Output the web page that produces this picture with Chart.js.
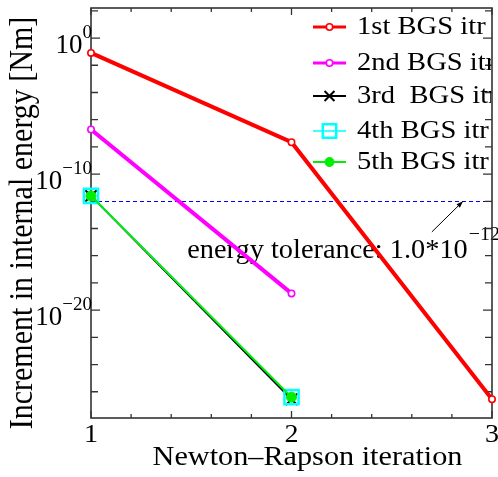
<!DOCTYPE html>
<html>
<head>
<meta charset="utf-8">
<script src="https://cdn.jsdelivr.net/npm/chart.js@4.4.0/dist/chart.umd.min.js"></script>
<style>
html,body{margin:0;padding:0;background:#fff;}
#wrap{width:498px;height:477px;}
</style>
</head>
<body>
<div id="wrap"><canvas id="c" width="498" height="477"></canvas></div>
<script>
// ---- data ----
const iterations = [1, 2, 3];
const bgs1 = [8.1e-2, 2.2e-8, 2.8e-27];
const bgs2 = [1.9e-7, 1.7e-19];
const bgs3 = [2.5e-12, 2.8e-27];
const bgs4 = [2.5e-12, 4.0e-27];
const bgs5 = [2.5e-12, 4.0e-27];
const seriesNames = ['1st BGS itr', '2nd BGS itr', '3rd  BGS itr', '4th BGS itr', '5th BGS itr'];
const yMajorTicks = [1e0, 1e-10, 1e-20];
const yTickBase = ['10', '10', '10'];
const yTickExp = ['0', '\u221210', '\u221220'];
const yMinorExps = [2, -2, -4, -6, -8, -12, -14, -16, -18, -22, -24, -26];
const xTickValues = [1, 2, 3];
const xTickLabels = ['1', '2', '3'];
const xMinorTicks = [1.2, 1.4, 1.6, 1.8, 2.2, 2.4, 2.6, 2.8];
const tolerance = 1e-12;
const toleranceText = 'energy tolerance: 1.0*10';
const toleranceExp = '\u221212';
const xTitle = 'Newton\u2013Rapson iteration';
const yTitle = 'Increment in internal energy [Nm]';
// annotation anchor positions (data space)
const arrowTip = {x: 2.855, y: 1e-12};
const arrowTail = {x: 2.70, y: Math.pow(10, -14.25)};
const noteAnchor = {x: 1.48, y: Math.pow(10, -16.17)};

const toPts = (vals) => vals.map((v, i) => ({x: iterations[i], y: v}));

const styles = [
  {color: '#ff0000', width: 4, pointStyle: 'circle', radius: 3.2, pbw: 1.6, bg: '#ffffff', order: 4},
  {color: '#ff00ff', width: 4, pointStyle: 'circle', radius: 3.2, pbw: 1.6, bg: '#ffffff', order: 3},
  {color: '#000000', width: 2, pointStyle: 'crossRot', radius: 8, pbw: 2, bg: '#000000', order: 2},
  {color: '#00ffff', width: 1.5, pointStyle: 'rect', radius: 10, pbw: 2.5, bg: 'rgba(0,0,0,0)', order: 1},
  {color: '#00ee00', width: 2, pointStyle: 'circle', radius: 5, pbw: 1, bg: '#00ee00', order: 0}
];
const seriesData = [bgs1, bgs2, bgs3, bgs4, bgs5];

const datasets = seriesData.map((vals, i) => ({
  label: seriesNames[i],
  data: toPts(vals),
  borderColor: styles[i].color,
  borderWidth: styles[i].width,
  pointStyle: styles[i].pointStyle,
  pointRadius: styles[i].radius,
  pointBorderWidth: styles[i].pbw,
  pointBorderColor: styles[i].color,
  pointBackgroundColor: styles[i].bg,
  tension: 0,
  fill: false,
  clip: false,
  order: styles[i].order
}));

function sText(ctx, txt, x, y, size, sx, align) {
  ctx.save();
  ctx.font = size + 'px "Liberation Serif", "Times New Roman", serif';
  ctx.textBaseline = 'alphabetic';
  ctx.textAlign = 'left';
  const w = ctx.measureText(txt).width * sx;
  let x0 = x;
  if (align === 'center') x0 = x - w / 2;
  else if (align === 'right') x0 = x - w;
  ctx.translate(x0, y);
  ctx.scale(sx, 1);
  ctx.fillStyle = '#000';
  ctx.fillText(txt, 0, 0);
  ctx.restore();
  return w;
}
function tWidth(ctx, txt, size, sx) {
  ctx.save();
  ctx.font = size + 'px "Liberation Serif", "Times New Roman", serif';
  const w = ctx.measureText(txt).width * sx;
  ctx.restore();
  return w;
}

function drawMarker(ctx, st, x, y, r) {
  ctx.save();
  ctx.strokeStyle = st.color;
  ctx.fillStyle = st.bg;
  ctx.lineWidth = st.pbw;
  ctx.beginPath();
  if (st.pointStyle === 'circle') {
    ctx.arc(x, y, r, 0, Math.PI * 2);
    ctx.fill(); ctx.stroke();
  } else if (st.pointStyle === 'rect') {
    const s = r * Math.SQRT1_2;
    ctx.rect(x - s, y - s, 2 * s, 2 * s);
    ctx.stroke();
  } else {
    const s = r * Math.SQRT1_2;
    ctx.moveTo(x - s, y - s); ctx.lineTo(x + s, y + s);
    ctx.moveTo(x - s, y + s); ctx.lineTo(x + s, y - s);
    ctx.stroke();
  }
  ctx.restore();
}

const decor = {
  id: 'decor',
  beforeDatasetsDraw(chart) {
    const ctx = chart.ctx;
    const a = chart.chartArea;
    const xs = chart.scales.x, ys = chart.scales.y;
    ctx.save();
    // tolerance line
    const ty = Math.round(ys.getPixelForValue(tolerance)) + 0.5;
    ctx.strokeStyle = '#0000ff';
    ctx.lineWidth = 1;
    ctx.setLineDash([4, 3]);
    ctx.beginPath();
    ctx.moveTo(a.left, ty); ctx.lineTo(a.right, ty);
    ctx.stroke();
    ctx.setLineDash([]);
    // annotation text
    const nx = xs.getPixelForValue(noteAnchor.x);
    const ny = ys.getPixelForValue(noteAnchor.y);
    const w = sText(ctx, toleranceText, nx, ny, 27, 1.05, 'left');
    sText(ctx, toleranceExp, nx + w + 1, ny - 18, 19, 1.05, 'left');
    // arrow
    const ax0 = xs.getPixelForValue(arrowTail.x), ay0 = ys.getPixelForValue(arrowTail.y);
    const ax1 = xs.getPixelForValue(arrowTip.x), ay1 = ys.getPixelForValue(arrowTip.y);
    ctx.strokeStyle = '#000'; ctx.fillStyle = '#000'; ctx.lineWidth = 1;
    ctx.beginPath(); ctx.moveTo(ax0, ay0); ctx.lineTo(ax1, ay1); ctx.stroke();
    const ang = Math.atan2(ay1 - ay0, ax1 - ax0);
    ctx.beginPath();
    ctx.moveTo(ax1, ay1);
    ctx.lineTo(ax1 - 7 * Math.cos(ang - 0.35), ay1 - 7 * Math.sin(ang - 0.35));
    ctx.lineTo(ax1 - 7 * Math.cos(ang + 0.35), ay1 - 7 * Math.sin(ang + 0.35));
    ctx.closePath(); ctx.fill();
    // frame
    ctx.strokeStyle = '#333'; ctx.lineWidth = 1.6;
    ctx.strokeRect(a.left, a.top, a.right - a.left, a.bottom - a.top);
    // y ticks
    ctx.lineWidth = 1.3;
    ctx.beginPath();
    yMajorTicks.forEach(v => {
      const y = ys.getPixelForValue(v);
      ctx.moveTo(a.left, y); ctx.lineTo(a.left + 9, y);
      ctx.moveTo(a.right, y); ctx.lineTo(a.right - 9, y);
    });
    yMinorExps.forEach(e => {
      const y = ys.getPixelForValue(Math.pow(10, e));
      ctx.moveTo(a.left, y); ctx.lineTo(a.left + 7, y);
      ctx.moveTo(a.right, y); ctx.lineTo(a.right - 7, y);
    });
    xTickValues.forEach(v => {
      const x = xs.getPixelForValue(v);
      ctx.moveTo(x, a.bottom); ctx.lineTo(x, a.bottom - 7);
      ctx.moveTo(x, a.top); ctx.lineTo(x, a.top + 7);
    });
    xMinorTicks.forEach(v => {
      const x = xs.getPixelForValue(v);
      ctx.moveTo(x, a.bottom); ctx.lineTo(x, a.bottom - 4);
      ctx.moveTo(x, a.top); ctx.lineTo(x, a.top + 4);
    });
    ctx.stroke();
    // y tick labels
    yMajorTicks.forEach((v, i) => {
      const y = ys.getPixelForValue(v);
      const we = tWidth(ctx, yTickExp[i], 19, 1);
      const wb = tWidth(ctx, yTickBase[i], 27, 1);
      const ex = a.left + 1 - we;
      sText(ctx, yTickExp[i], ex, y, 19, 1, 'left');
      sText(ctx, yTickBase[i], ex - wb, y + 14.5, 27, 1, 'left');
    });
    // x tick labels
    xTickValues.forEach((v, i) => {
      sText(ctx, xTickLabels[i], xs.getPixelForValue(v), a.bottom + 24, 26, 1.08, 'center');
    });
    // x title
    sText(ctx, xTitle, (a.left + a.right) / 2 + 16, a.bottom + 47, 27, 1.12, 'center');
    // y title
    ctx.save();
    ctx.translate(32, (a.top + a.bottom) / 2 + 10);
    ctx.rotate(-Math.PI / 2);
    ctx.scale(1, 1.1);
    ctx.font = '30px "Liberation Serif", "Times New Roman", serif';
    ctx.textAlign = 'center';
    ctx.fillStyle = '#000';
    ctx.fillText(yTitle, 0, 0);
    ctx.restore();
    ctx.restore();
  },
  afterDraw(chart) {
    const ctx = chart.ctx;
    const a = chart.chartArea;
    const rows = [27, 63, 96, 131, 162];
    ctx.save();
    ctx.beginPath();
    ctx.rect(0, 0, a.right - 1, chart.height);
    ctx.clip();
    seriesNames.forEach((name, i) => {
      const st = styles[i];
      const y = rows[i];
      ctx.strokeStyle = st.color;
      ctx.lineWidth = Math.min(st.width, 3);
      ctx.beginPath(); ctx.moveTo(313, y); ctx.lineTo(346, y); ctx.stroke();
      const r = st.pointStyle === 'circle' ? (i === 4 ? 4.5 : 3.2) : (st.pointStyle === 'rect' ? 9.5 : 7);
      drawMarker(ctx, st, 329.5, y, r);
      sText(ctx, name, 357, y + 7, 26, 1.1, 'left');
    });
    ctx.restore();
  }
};

new Chart(document.getElementById('c'), {
  type: 'line',
  data: {datasets},
  options: {
    responsive: false,
    animation: false,
    devicePixelRatio: 1,
    layout: {autoPadding: false, padding: {left: 91, top: 8, right: 6, bottom: 59}},
    plugins: {legend: {display: false}, tooltip: {enabled: false}},
    scales: {
      x: {type: 'linear', min: 1, max: 3, display: false},
      y: {type: 'logarithmic', min: Math.pow(10, -27.93), max: Math.pow(10, 2.21), display: false}
    }
  },
  plugins: [decor]
});
</script>
</body>
</html>
